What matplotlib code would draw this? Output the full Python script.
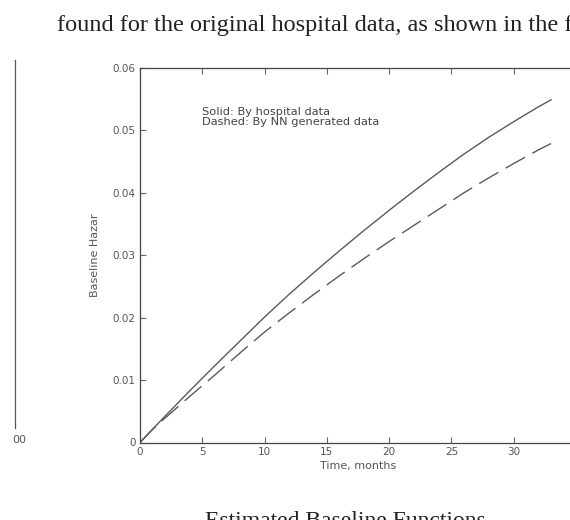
import matplotlib
matplotlib.use("Agg")
import matplotlib.pyplot as plt
from matplotlib.lines import Line2D

# ---- data ----
time_months = [0, 1, 2, 4, 6, 8, 10, 12, 14, 16, 18, 20, 22, 24, 26, 28, 30, 32, 33]
hazard_hospital = [0.0, 0.0021, 0.0042, 0.0083, 0.0123, 0.0162, 0.0201, 0.0238, 0.0273,
                   0.0307, 0.0340, 0.0372, 0.0403, 0.0433, 0.0462, 0.0489, 0.0514,
                   0.0538, 0.0549]
hazard_nn = [0.0, 0.0021, 0.0039, 0.0074, 0.0108, 0.0143, 0.0177, 0.0208, 0.0238,
             0.0267, 0.0295, 0.0322, 0.0348, 0.0374, 0.0400, 0.0424, 0.0447,
             0.0469, 0.0479]
x_ticks = [0, 5, 10, 15, 20, 25, 30]
x_tick_labels = ["0", "5", "10", "15", "20", "25", "30"]
y_ticks = [0, 0.01, 0.02, 0.03, 0.04, 0.05, 0.06]
y_tick_labels = ["0", "0.01", "0.02", "0.03", "0.04", "0.05", "0.06"]
legend_lines = ["Solid: By hospital data", "Dashed: By NN generated data"]

plt.rcParams['lines.scale_dashes'] = False
W, H = 570, 520
fig = plt.figure(figsize=(W / 100, H / 100), dpi=100)
fig.patch.set_facecolor("white")

ax = fig.add_axes([140 / W, (H - 442.5) / H, 436 / W, 374.5 / H])
line_col = "#5a5a5a"
txt_col = "#555555"
sans = "DejaVu Sans"

ax.plot(time_months, hazard_hospital, color=line_col, lw=1.0)
ax.plot(time_months, hazard_nn, color=line_col, lw=1.0, dashes=(16, 6))

ax.set_xlim(0, 35)
ax.set_ylim(0, 0.06)
ax.set_xticks(x_ticks)
ax.set_xticklabels(x_tick_labels)
ax.set_yticks(y_ticks)
ax.set_yticklabels(y_tick_labels)
ax.tick_params(direction="in", length=4, width=0.8, colors="#666666",
               labelcolor=txt_col, labelsize=7.5, top=True, right=True, pad=3)
for lab in ax.get_xticklabels() + ax.get_yticklabels():
    lab.set_family(sans)
for sp in ax.spines.values():
    sp.set_color("#444444")
    sp.set_linewidth(0.9)

ax.set_xlabel("Time, months", fontsize=8, color=txt_col, family=sans, labelpad=3)
ax.set_ylabel("Baseline Hazar", fontsize=8, color=txt_col, family=sans, labelpad=9)

ax.text(5.0, 0.0529, legend_lines[0], fontsize=8.2, color="#444444",
        family=sans, va="center", ha="left")
ax.text(5.0, 0.0513, legend_lines[1], fontsize=8.2, color="#444444",
        family=sans, va="center", ha="left")

# page text (scanned document context)
fig.text(57 / W, 1 - 31 / H, "found for the original hospital data, as shown in the figure",
         fontsize=17.45, family="Liberation Serif", color="#222222", va="baseline", ha="left")
fig.text(345 / W, 1 - 527 / H, "Estimated Baseline Functions",
         fontsize=17, family="Liberation Serif", color="#222222", va="baseline", ha="center")

# fragment of neighbouring figure at left edge
fig.add_artist(Line2D([15 / W, 15 / W], [1 - 60 / H, 1 - 428 / H],
                      transform=fig.transFigure, color="#555555", lw=0.9))
fig.text(12 / W, 1 - 440 / H, "00", fontsize=8, family=sans,
         color=txt_col, va="center", ha="left")

fig.savefig("out.png", dpi=100, facecolor="white")
